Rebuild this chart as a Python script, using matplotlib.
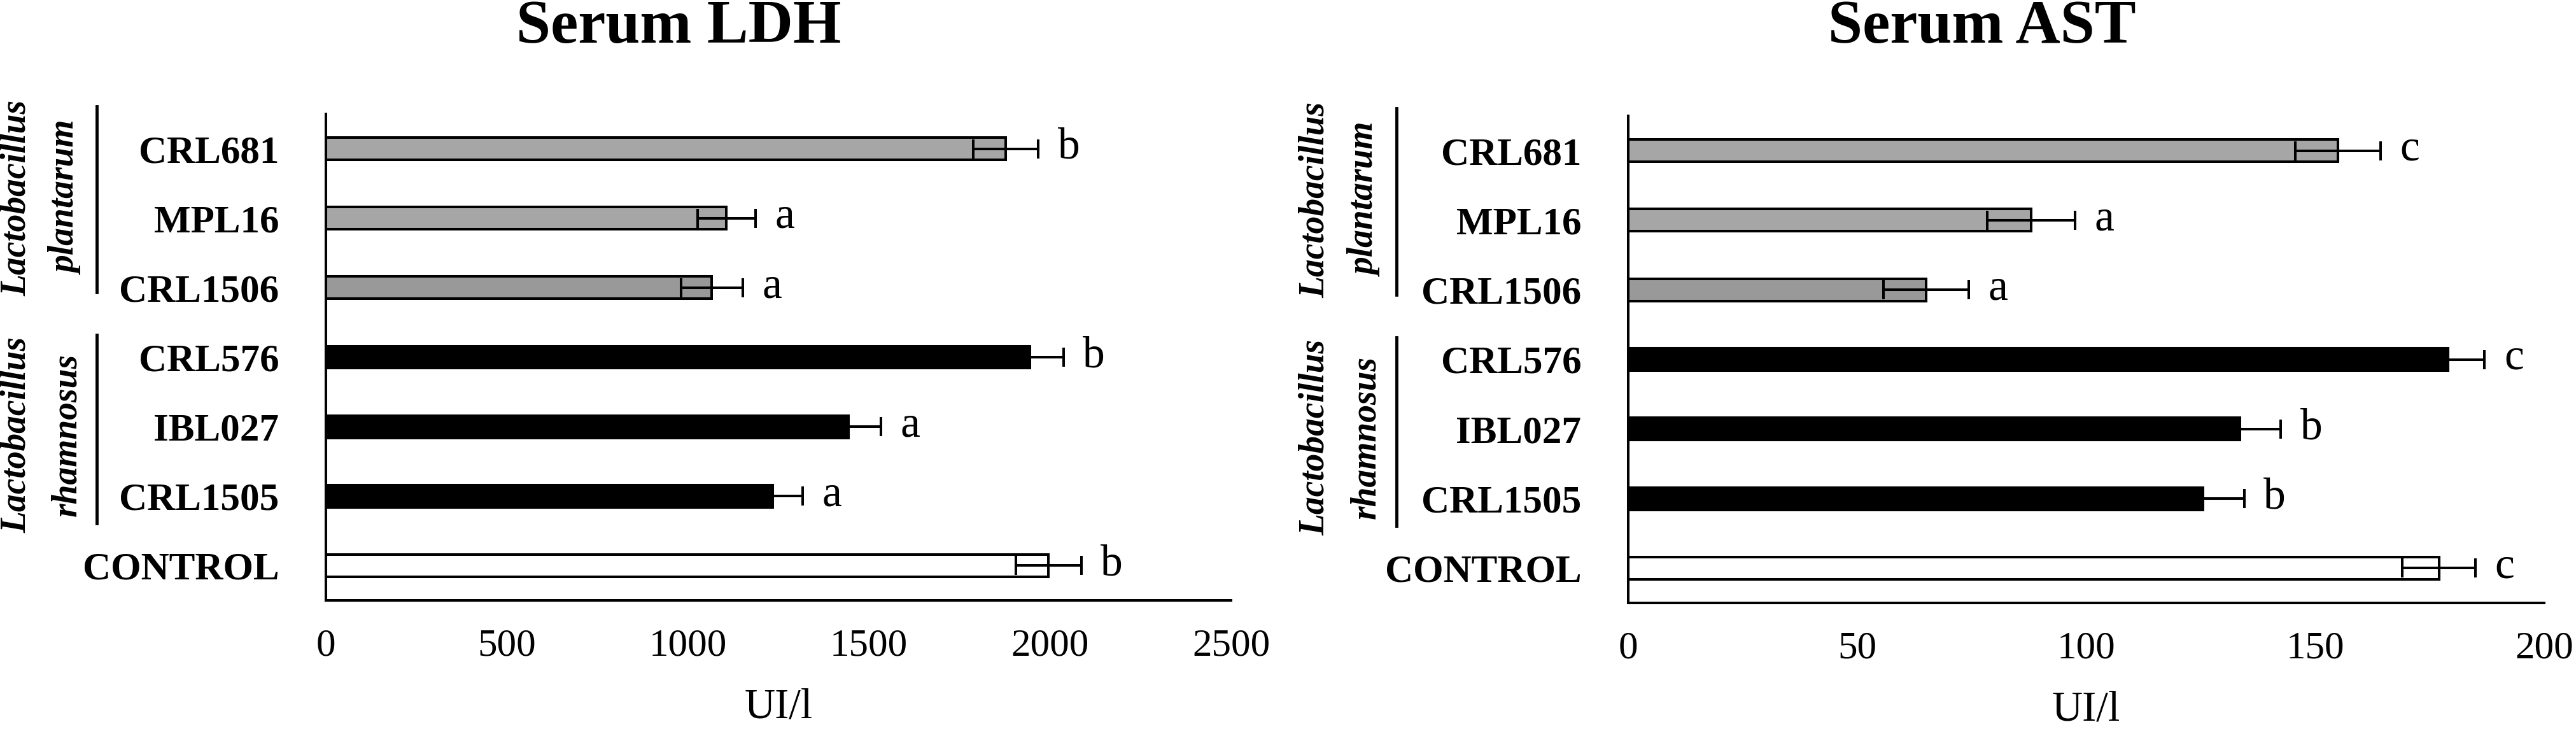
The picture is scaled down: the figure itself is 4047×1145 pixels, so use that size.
import matplotlib
matplotlib.use("Agg")
from matplotlib import pyplot as plt
from matplotlib import transforms

plt.rcParams['font.family'] = ['Liberation Serif', 'DejaVu Serif']

strains = ["CRL681", "MPL16", "CRL1506", "CRL576", "IBL027", "CRL1505", "CONTROL"]
bar_colors = ["#a6a6a6", "#a6a6a6", "#999999", "black", "black", "black", "white"]

ldh_mean = [1878, 1106, 1066, 1945, 1443, 1234, 1996]
ldh_err = [90, 80, 85, 92, 90, 82, 90]
ldh_letters = ["b", "a", "a", "b", "a", "a", "b"]

ast_mean = [155, 88, 65, 179, 133.5, 125.5, 177]
ast_err = [9.3, 9.6, 9.3, 8, 9, 9, 8]
ast_letters = ["c", "a", "a", "c", "b", "b", "c"]

groups = [("Lactobacillus", "plantarum", -0.61, 2.07, 0.71),
          ("Lactobacillus", "rhamnosus", 2.68, 5.39, 4.12)]


def draw_panel(ax, means, errs, letters, xmax, step, title_x, title):
    y = list(range(len(strains)))
    ax.barh(y, means, height=0.32, color=bar_colors, edgecolor="black",
            linewidth=2.9, zorder=2)
    ax.errorbar(means, y, xerr=errs, fmt="none", ecolor="black",
                elinewidth=2.9, capsize=11, capthick=2.9, zorder=3)
    for yi, m, e, t in zip(y, means, errs, letters):
        ax.annotate(t, (m + e, yi), xytext=(22, -11), textcoords="offset points",
                    ha="left", va="baseline", fontsize=50)

    ax.set_ylim(len(strains) - 0.5, -0.5)
    ax.set_xlim(0, xmax)
    ax.set_xticks(range(0, xmax + 1, step))
    ax.set_yticks(y)
    ax.set_yticklabels(strains, fontweight="bold", fontsize=44)
    ax.tick_params(axis="y", length=0, pad=53)
    ax.tick_params(axis="x", length=0, pad=32, labelsize=44)
    ax.set_xlabel("UI/l", fontsize=48, labelpad=27)

    for s in ["top", "right"]:
        ax.spines[s].set_visible(False)
    for s in ["left", "bottom"]:
        ax.spines[s].set_linewidth(2.9)

    trans = transforms.blended_transform_factory(ax.transAxes, ax.transData)
    for genus, species, y0, y1, yc in groups:
        ax.plot([-0.253, -0.253], [y0, y1], color="black", linewidth=3.5,
                transform=trans, clip_on=False)
        ax.text(-0.342, yc, genus, transform=trans, rotation=90, ha="center",
                va="center", fontsize=40, fontweight="bold", style="italic")
        ax.text(-0.286, yc, species, transform=trans, rotation=90, ha="center",
                va="center", fontsize=40, fontweight="bold", style="italic")

    ax.figure.text(title_x, 1 - 44 / 1145, title, ha="center", va="center",
                   fontsize=70, fontweight="bold")


fig = plt.figure(figsize=(40.48, 11.45), dpi=100)
ax1 = fig.add_axes([512 / 4048, 1 - 943 / 1145, 1422 / 4048, 764 / 1145])
ax2 = fig.add_axes([2558 / 4048, 1 - 947 / 1145, 1439 / 4048, 765 / 1145])

draw_panel(ax1, ldh_mean, ldh_err, ldh_letters, 2500, 500, 1066 / 4048, "Serum LDH")
draw_panel(ax2, ast_mean, ast_err, ast_letters, 200, 50, 3114 / 4048, "Serum AST")

fig.savefig("out.png", dpi=100)
